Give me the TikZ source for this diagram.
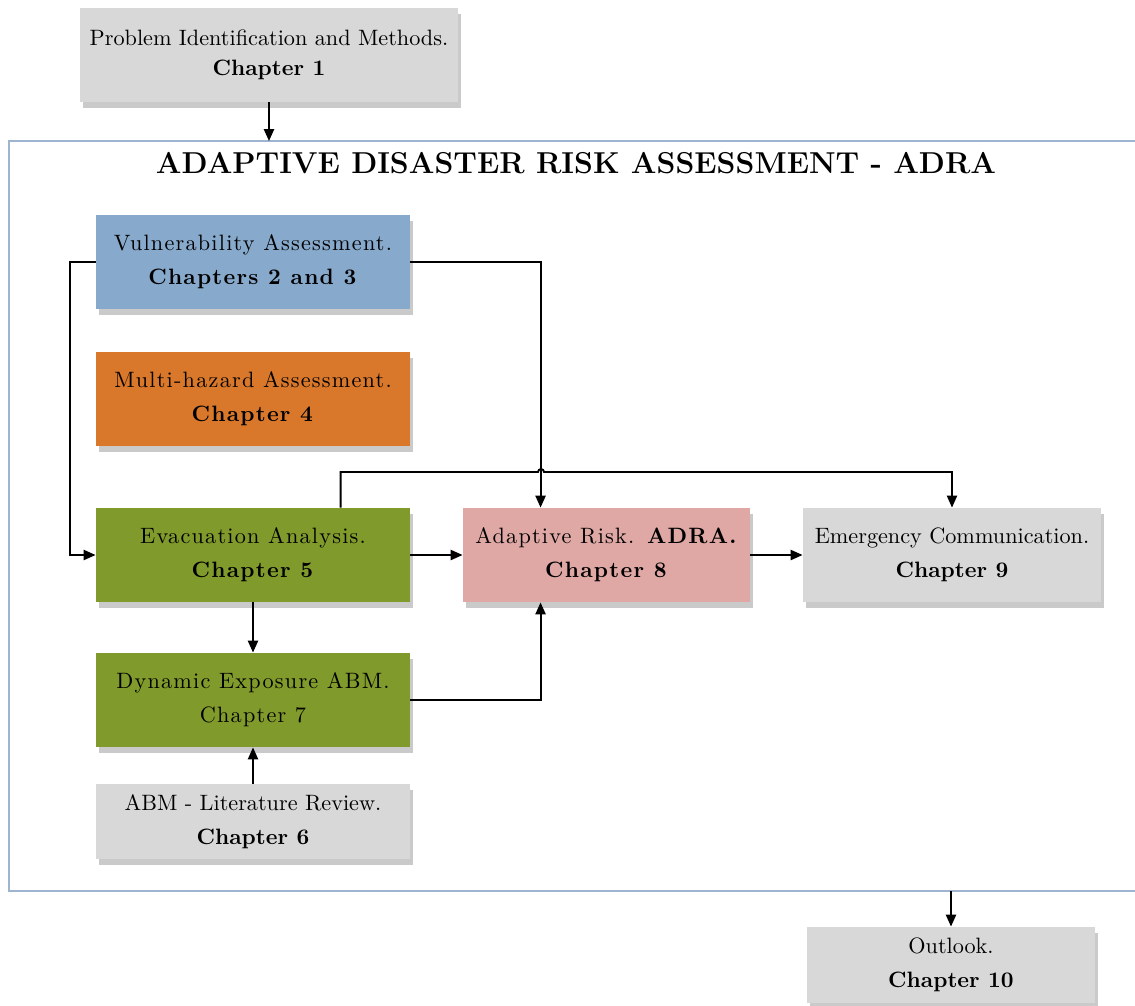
\documentclass[tikz,border=0pt]{standalone}
\usepackage{fontspec}
\newfontfamily\spacedfont{lmroman10}[Extension=.otf, UprightFont=*-regular, BoldFont=*-bold, LetterSpace=5.5]
\usetikzlibrary{shadows,arrows.meta,calc}
\definecolor{boxgrey}{HTML}{D8D8D8}
\definecolor{vulblue}{HTML}{87A9CC}
\definecolor{hazorange}{HTML}{D9782B}
\definecolor{evagreen}{HTML}{809A2B}
\definecolor{adrpink}{HTML}{E0A8A5}
\definecolor{framecol}{HTML}{9FB4D0}
\definecolor{shadowgrey}{HTML}{CACACA}
\def\u{0.45pt}
\tikzset{
  chapbox/.style={rectangle, inner sep=0pt, align=center,
    font=\fontsize{10}{15.3}\selectfont,
    drop shadow={shadow xshift=1.35pt, shadow yshift=-2.7pt, fill=shadowgrey, opacity=1}},
  spaced/.style={font=\spacedfont\fontsize{10}{15.3}\selectfont},
  arr/.style={-{Triangle[length=5.4pt,width=4.6pt]}, line width=0.85pt, black},
}
\begin{document}
\begin{tikzpicture}[x=0.45pt,y=-0.45pt]
\useasboundingbox (0,0) rectangle (1135,1005);
% frame
\coordinate (ftop) at (9,141);
\coordinate (fbot) at (9,891);
\draw[framecol, line width=0.6pt] (1135,141) -- (ftop) -- (fbot) -- (1135,891);
\node[font=\fontsize{13.6}{16}\selectfont\bfseries] (title) at (576,163) {ADAPTIVE DISASTER RISK ASSESSMENT - ADRA};

\node[chapbox, fill=boxgrey, minimum width=378*\u, minimum height=94*\u,
  font=\fontsize{10}{13.5}\selectfont] (ch1) at (269,55)
  {Problem Identification and Methods.\\ \textbf{Chapter 1}};
\node[chapbox, spaced, fill=vulblue, minimum width=314*\u, minimum height=94*\u] (vul) at (253,262)
  {Vulnerability Assessment.\\ \textbf{Chapters 2 and 3}};
\node[chapbox, spaced, fill=hazorange, minimum width=314*\u, minimum height=94*\u] (haz) at (253,399)
  {Multi-hazard Assessment.\\ \textbf{Chapter 4}};
\node[chapbox, spaced, fill=evagreen, minimum width=314*\u, minimum height=94*\u] (eva) at (253,555)
  {Evacuation Analysis.\\ \textbf{Chapter 5}};
\node[chapbox, spaced, fill=adrpink, minimum width=287*\u, minimum height=94*\u] (adr) at (606.5,555)
  {Adaptive Risk. \textbf{ADRA.}\\ \textbf{Chapter 8}};
\node[chapbox, fill=boxgrey, minimum width=298*\u, minimum height=94*\u] (eme) at (952,555)
  {Emergency Communication.\\ \textbf{Chapter 9}};
\node[chapbox, spaced, fill=evagreen, minimum width=314*\u, minimum height=94*\u] (dyn) at (253,700)
  {Dynamic Exposure ABM.\\ Chapter 7};
\node[chapbox, fill=boxgrey, minimum width=314*\u, minimum height=75*\u] (abm) at (253,821.5)
  {ABM - Literature Review.\\ \textbf{Chapter 6}};
\node[chapbox, fill=boxgrey, minimum width=288*\u, minimum height=76*\u] (out) at (951,965)
  {Outlook.\\ \textbf{Chapter 10}};

% connectors
\draw[arr] (ch1.south) -- (ch1.south |- ftop);
\draw[arr] (vul.west) -- ([xshift=-26*\u]vul.west) |- (eva.west);
\draw[arr] (vul.east) -| ([xshift=78*\u]adr.north west);
\draw[arr] ([xshift=245*\u]eva.north west) |- (538,472)
  arc[start angle=180, end angle=0, radius=3*\u] -- (eme.north |- 544,472) -- (eme.north);
\draw[arr] (eva.east) -- (adr.west);
\draw[arr] (adr.east) -- (eme.west);
\draw[arr] (eva.south) -- (dyn.north);
\draw[arr] (dyn.east) -| ([xshift=78*\u]adr.south west);
\draw[arr] (abm.north) -- (dyn.south);
\draw[arr] (out.north |- fbot) -- (out.north);
\end{tikzpicture}
\end{document}
